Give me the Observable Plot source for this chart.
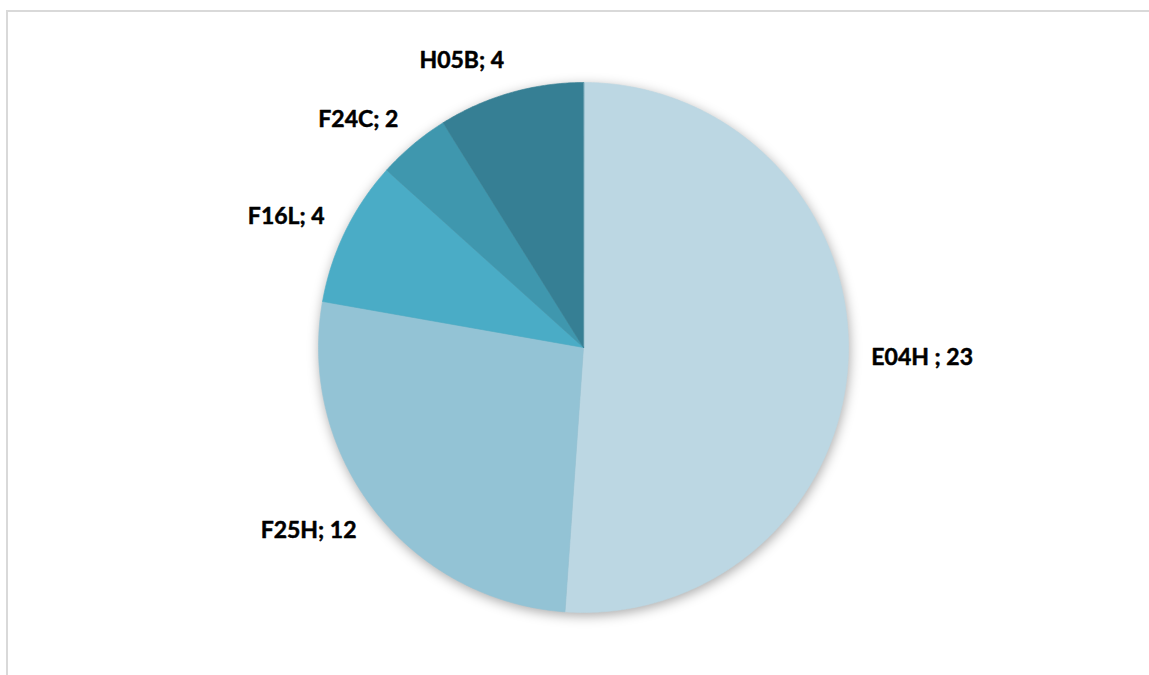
<!DOCTYPE html>
<html>
<head>
<meta charset="utf-8">
<script src="https://cdn.jsdelivr.net/npm/d3@7"></script>
<script src="https://cdn.jsdelivr.net/npm/@observablehq/plot@0.6"></script>
<style>
  html, body { margin: 0; padding: 0; background: #ffffff; }
  #wrap { position: relative; width: 1149px; height: 675px; overflow: hidden; background: #fff; }
  #frame { position: absolute; left: 6px; top: 10px; width: 1300px; height: 800px;
           border-left: 2px solid #d9d9d9; border-top: 2px solid #d9d9d9; }
  #chart { position: absolute; left: 0; top: 0; }
</style>
</head>
<body>
<div id="wrap">
  <div id="frame"></div>
  <div id="chart"></div>
</div>
<script>
// ---- data ----
const categories = ["E04H", "F25H", "F16L", "F24C", "H05B"];
const values = [23, 12, 4, 2, 4];
const labels = ["E04H ; 23", "F25H; 12", "F16L; 4", "F24C; 2", "H05B; 4"];
const colors = ["#bcd7e3", "#93c3d5", "#4aacc6", "#3f97ae", "#367f94"];

// ---- layout ----
const W = 1149, H = 675;
const cx = 583, cy = 347, R = 265;
const FONT = "bold 23px Lato";

// pie angles (clockwise from 12 o'clock)
const arcs = d3.pie().sort(null).startAngle(0).endAngle(2 * Math.PI)(values);

// wedge polygons in unit-circle coordinates (y up)
const wedgePts = [];
arcs.forEach((a, i) => {
  const cat = categories[i];
  wedgePts.push({cat, x: 0, y: 0});
  const n = Math.max(2, Math.ceil((a.endAngle - a.startAngle) / (Math.PI / 360)));
  for (let k = 0; k <= n; k++) {
    const t = a.startAngle + (a.endAngle - a.startAngle) * k / n;
    wedgePts.push({cat, x: Math.sin(t), y: Math.cos(t)});
  }
});

// label positions: outside end, box adjacent to the pie
const ctx = document.createElement("canvas").getContext("2d");
ctx.font = FONT;
const gap = 23, hh = 10;
const labelData = arcs.map((a, i) => {
  const m = (a.startAngle + a.endAngle) / 2;
  const s = Math.sin(m), c = Math.cos(m);
  const hw = ctx.measureText(labels[i]).width / 2;
  return {
    label: labels[i],
    x: s * (R + gap) / R + Math.sign(s) * hw / R,
    y: c * (R + gap) / R + c * hh / R
  };
});

const chart = Plot.plot({
  width: W,
  height: H,
  marginLeft: cx - R,
  marginRight: W - (cx + R),
  marginTop: cy - R,
  marginBottom: H - (cy + R),
  x: {domain: [-1, 1], axis: null},
  y: {domain: [-1, 1], axis: null},
  color: {domain: categories, range: colors},
  style: {background: "transparent", overflow: "visible"},
  marks: [
    Plot.line(wedgePts, {
      x: "x", y: "y", z: "cat",
      fill: "cat", stroke: "cat", strokeWidth: 0.6,
      curve: "linear-closed"
    }),
    Plot.text(labelData, {
      x: "x", y: "y", text: "label",
      textAnchor: "middle", lineAnchor: "middle",
      fontFamily: "Lato", fontWeight: "bold", fontSize: 23,
      fill: "#000", stroke: "#000", strokeWidth: 0.5
    })
  ]
});
document.getElementById("chart").appendChild(chart);

// soft shadow around the pie
const lineGroup = chart.querySelector('g[aria-label="line"]');
if (lineGroup) lineGroup.style.filter = "drop-shadow(1px 3px 6px rgba(0,0,0,0.33))";
</script>
</body>
</html>
